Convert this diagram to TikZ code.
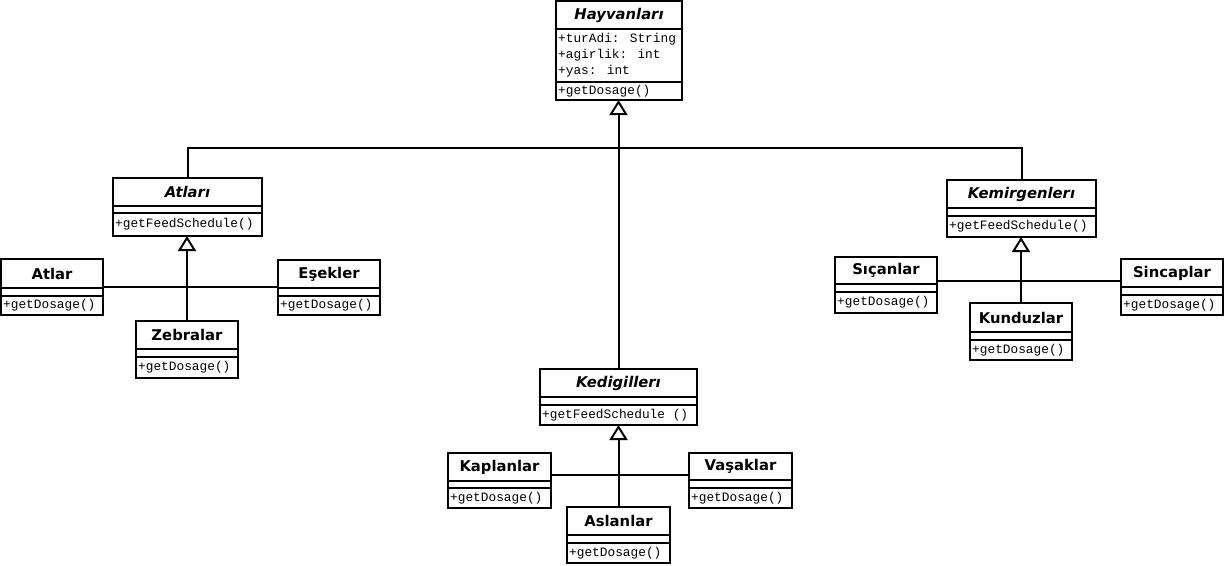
\documentclass[tikz,border=0pt]{standalone}
\usepackage{fontspec}
\setmainfont{DejaVu Sans}
\newfontfamily\monof{Liberation Mono}
\usetikzlibrary{arrows.meta}
\tikzset{
  classbox/.style={draw, line width=2pt, inner sep=0pt, outer sep=0pt, fill=white},
  secline/.style={line width=2pt},
  titletext/.style={inner sep=0pt, font=\bfseries\fontsize{14.8}{16}\selectfont},
  abstitle/.style={inner sep=0pt, font=\bfseries\itshape\fontsize{14.8}{16}\selectfont},
  methtext/.style={inner sep=0pt, anchor=west, font=\monof\fontsize{12.8}{14}\selectfont},
  conn/.style={line width=2pt},
  gen/.style={line width=2pt, -{Triangle[open, length=15pt, width=18pt, line width=2pt]}},
}
% name, x1, y1, x2, y2, sep1, sep2, title(style), method
\newcommand\umlbox[9]{%
  \node[classbox, anchor=north west, minimum width={(#4-#2)*1pt}, minimum height={(#5-#3)*1pt}] (#1) at (#2,-#3) {};
  \draw[secline] (#2,-#6) -- (#4,-#6);
  \draw[secline] (#2,-#7) -- (#4,-#7);
  \node[#8] (#1-title) at ({(#2+#4)/2},{-(#3+#6)/2}) {\csname ttl#1\endcsname};
  \node[methtext] (#1-meth) at (#2+2,{-(#7+#5)/2}) {#9};
}
\begin{document}
\begin{tikzpicture}[x=1pt,y=1pt]
\useasboundingbox (0,0) rectangle (1226,-565);
\fill[white] (0,0) rectangle (1226,-565);
% titles
\expandafter\def\csname ttlHayvanlar\endcsname{Hayvanları}
\expandafter\def\csname ttlAtlarA\endcsname{Atları}
\expandafter\def\csname ttlAtlarC\endcsname{Atlar}
\expandafter\def\csname ttlEsekler\endcsname{Eşekler}
\expandafter\def\csname ttlZebralar\endcsname{Zebralar}
\expandafter\def\csname ttlKemirgenler\endcsname{Kemirgenlerı}
\expandafter\def\csname ttlSicanlar\endcsname{Sıçanlar}
\expandafter\def\csname ttlSincaplar\endcsname{Sincaplar}
\expandafter\def\csname ttlKunduzlar\endcsname{Kunduzlar}
\expandafter\def\csname ttlKedigiller\endcsname{Kedigillerı}
\expandafter\def\csname ttlKaplanlar\endcsname{Kaplanlar}
\expandafter\def\csname ttlVasaklar\endcsname{Vaşaklar}
\expandafter\def\csname ttlAslanlar\endcsname{Aslanlar}

% root class
\umlbox{Hayvanlar}{556}{1}{682}{100}{29}{82}{abstitle}{+getDosage()}
\node[methtext] (attr1) at (558,-39) {+turAdi: String};
\node[methtext] (attr2) at (558,-55) {+agirlik: int};
\node[methtext] (attr3) at (558,-71) {+yas: int};

% abstract classes
\umlbox{AtlarA}{113}{178}{262}{236}{206}{213}{abstitle}{+getFeedSchedule()}
\umlbox{Kemirgenler}{947}{180}{1096}{237}{208}{216}{abstitle}{+getFeedSchedule()}
\umlbox{Kedigiller}{540}{369}{697}{425}{397}{405}{abstitle}{+getFeedSchedule ()}

% concrete classes
\umlbox{AtlarC}{1}{259}{103}{315}{288}{296}{titletext}{+getDosage()}
\umlbox{Esekler}{278}{260}{380}{315}{288}{296}{titletext}{+getDosage()}
\umlbox{Zebralar}{136}{321}{238}{378}{349}{357}{titletext}{+getDosage()}
\umlbox{Sicanlar}{835}{257}{937}{313}{284}{292}{titletext}{+getDosage()}
\umlbox{Sincaplar}{1121}{259}{1223}{315}{287}{295}{titletext}{+getDosage()}
\umlbox{Kunduzlar}{970}{303}{1072}{360}{332}{340}{titletext}{+getDosage()}
\umlbox{Kaplanlar}{448}{453}{551}{508}{481}{488}{titletext}{+getDosage()}
\umlbox{Vasaklar}{689}{453}{792}{508}{480}{488}{titletext}{+getDosage()}
\umlbox{Aslanlar}{567}{507}{670}{563}{535}{543}{titletext}{+getDosage()}

% junction coordinates
\coordinate (bus) at (619,-148);
\coordinate (jKem) at (1021,-281);
\coordinate (jKed) at (619,-475);

% connectors to root
\draw[conn] (AtlarA.north) |- (bus) -| (Kemirgenler.north);
\draw[gen] (Kedigiller.north) -- (Kedigiller.north |- Hayvanlar.south);

% Atlar group
\draw[conn] (AtlarC.east) -- (AtlarC.east -| Esekler.west);
\draw[gen] (Zebralar.north) -- (Zebralar.north |- AtlarA.south);

% Kemirgenler group
\draw[conn] (Sicanlar.east |- jKem) -- (Sincaplar.west |- jKem);
\draw[gen] (Kunduzlar.north) -- (Kunduzlar.north |- Kemirgenler.south);

% Kedigiller group
\draw[conn] (Kaplanlar.east |- jKed) -- (Vasaklar.west |- jKed);
\draw[gen] (Aslanlar.north) -- (Aslanlar.north |- Kedigiller.south);
\end{tikzpicture}
\end{document}
